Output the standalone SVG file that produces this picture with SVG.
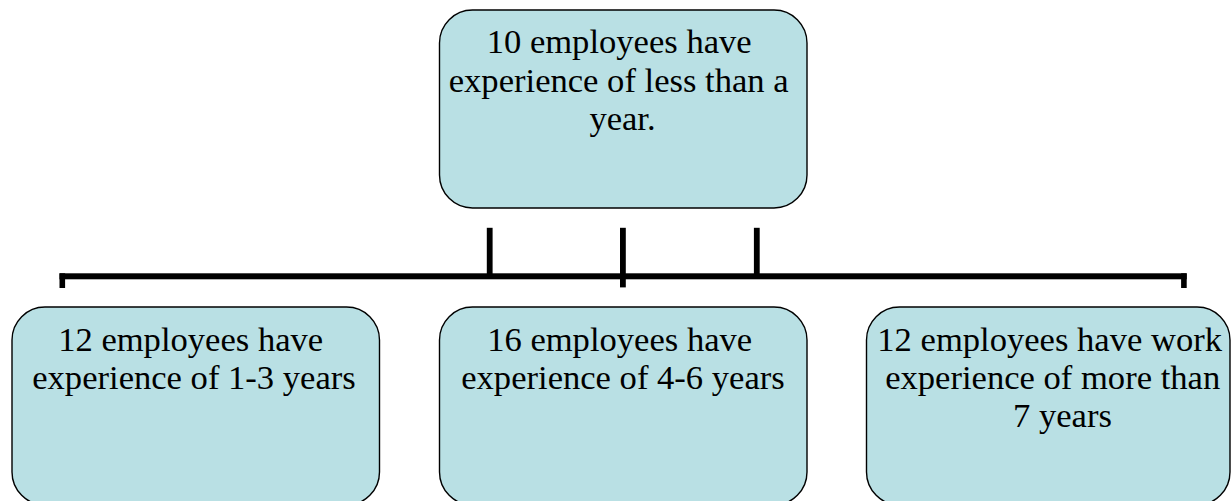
<svg xmlns="http://www.w3.org/2000/svg" width="1232" height="501" viewBox="0 0 1232 501">
  <style>
    .box { fill: #b9e0e4; stroke: #000; stroke-width: 1.4; }
    .lbl { font-family: 'Liberation Serif', 'DejaVu Serif', serif; font-size: 34.6px; fill: #000; text-anchor: middle; }
    .bar { fill: #000; }
  </style>
  <rect width="1232" height="501" fill="#fff"/>

  <!-- bracket connecting the top box to the three lower boxes -->
  <g id="connectors">
    <rect class="bar" x="59.5" y="273.3" width="1127.2" height="6"/>
    <rect class="bar" x="59.5" y="273.3" width="5.6" height="14.7"/>
    <rect class="bar" x="1181.1" y="273.3" width="5.6" height="14.7"/>
    <rect class="bar" x="486.8" y="227.8" width="5.8" height="50"/>
    <rect class="bar" x="620" y="227.8" width="5.8" height="59.6"/>
    <rect class="bar" x="753.9" y="227.8" width="5.8" height="50"/>
  </g>

  <g id="node-less-than-year">
    <rect class="box" x="439.5" y="10" width="367.5" height="198" rx="33" ry="33"/>
    <text class="lbl" font-family="Liberation Serif, DejaVu Serif, serif">
      <tspan x="623.5" y="53.3">10 employees have</tspan>
      <tspan x="623" y="91.7">experience of less than a</tspan>
      <tspan x="622.5" y="129.8">year.</tspan>
    </text>
  </g>

  <g id="node-1-3-years">
    <rect class="box" x="12" y="307" width="367.5" height="198" rx="33" ry="33"/>
    <text class="lbl" font-family="Liberation Serif, DejaVu Serif, serif">
      <tspan x="195" y="350.6">12 employees have</tspan>
      <tspan x="194" y="388.6">experience of 1-3 years</tspan>
    </text>
  </g>

  <g id="node-4-6-years">
    <rect class="box" x="439.5" y="307" width="367.5" height="198" rx="33" ry="33"/>
    <text class="lbl" font-family="Liberation Serif, DejaVu Serif, serif">
      <tspan x="624" y="350.6">16 employees have</tspan>
      <tspan x="623" y="388.6">experience of 4-6 years</tspan>
    </text>
  </g>

  <g id="node-more-than-7-years">
    <rect class="box" x="866.5" y="307" width="363.5" height="198" rx="33" ry="33"/>
    <text class="lbl" font-family="Liberation Serif, DejaVu Serif, serif">
      <tspan x="1054" y="350.6">12 employees have work</tspan>
      <tspan x="1057" y="388.6">experience of more than</tspan>
      <tspan x="1062.5" y="426.8">7 years</tspan>
    </text>
  </g>
</svg>
